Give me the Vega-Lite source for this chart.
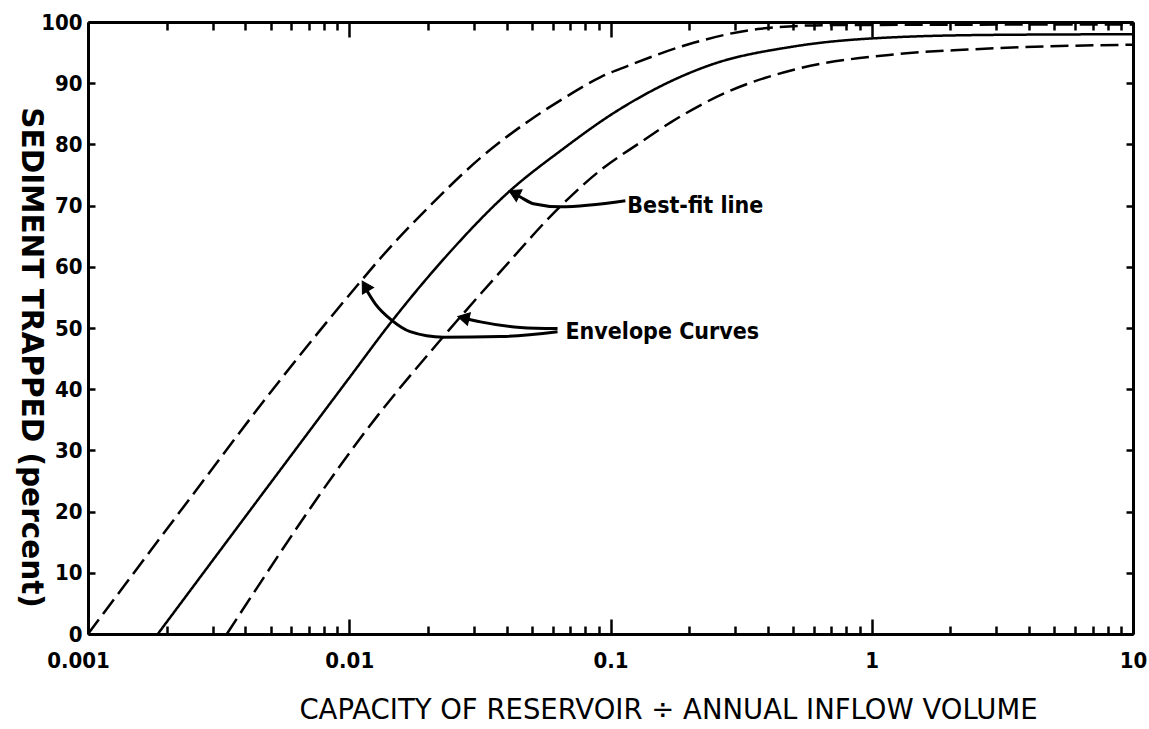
{
  "$schema": "https://vega.github.io/schema/vega-lite/v6.json",
  "width": 1045,
  "height": 612,
  "autosize": {"type": "none"},
  "padding": {"left": 88, "top": 22, "right": 16, "bottom": 95},
  "background": "white",
  "view": {"stroke": null},
  "config": {
    "axis": {
      "grid": false,
      "domainColor": "black",
      "domainWidth": 3,
      "tickColor": "black",
      "tickWidth": 2.5,
      "labelColor": "black",
      "labelFont": "DejaVu Sans Condensed, sans-serif",
      "labelFontWeight": "bold",
      "labelFontSize": 22,
      "titleColor": "black",
      "titleFont": "DejaVu Sans, sans-serif",
      "titleFontWeight": "normal",
      "titleFontSize": 27.5
    }
  },
  "datasets": {
    "curves": [
      {"curve": "upper", "x": 0.001, "y": 0},
      {"curve": "upper", "x": 0.00225, "y": 20},
      {"curve": "upper", "x": 0.00544, "y": 41.5},
      {"curve": "upper", "x": 0.011, "y": 57.5},
      {"curve": "upper", "x": 0.0131, "y": 61.3},
      {"curve": "upper", "x": 0.0204, "y": 70},
      {"curve": "upper", "x": 0.0318, "y": 77.8},
      {"curve": "upper", "x": 0.0493, "y": 84.0},
      {"curve": "upper", "x": 0.066, "y": 87.5},
      {"curve": "upper", "x": 0.0916, "y": 91.0},
      {"curve": "upper", "x": 0.116, "y": 92.8},
      {"curve": "upper", "x": 0.208, "y": 96.6},
      {"curve": "upper", "x": 0.376, "y": 98.9},
      {"curve": "upper", "x": 0.7, "y": 99.5},
      {"curve": "upper", "x": 10, "y": 99.6},
      {"curve": "best", "x": 0.00185, "y": 0},
      {"curve": "best", "x": 0.0101, "y": 42.1},
      {"curve": "best", "x": 0.01437, "y": 50.8},
      {"curve": "best", "x": 0.0237, "y": 61.9},
      {"curve": "best", "x": 0.0407, "y": 72.2},
      {"curve": "best", "x": 0.066, "y": 79.3},
      {"curve": "best", "x": 0.1026, "y": 85.1},
      {"curve": "best", "x": 0.242, "y": 93.0},
      {"curve": "best", "x": 0.503, "y": 96.0},
      {"curve": "best", "x": 1.21, "y": 97.5},
      {"curve": "best", "x": 3, "y": 97.9},
      {"curve": "best", "x": 10, "y": 98.0},
      {"curve": "lower", "x": 0.0034, "y": 0},
      {"curve": "lower", "x": 0.0128, "y": 35.6},
      {"curve": "lower", "x": 0.0223, "y": 48.0},
      {"curve": "lower", "x": 0.0379, "y": 59.2},
      {"curve": "lower", "x": 0.064, "y": 69.8},
      {"curve": "lower", "x": 0.0916, "y": 75.8},
      {"curve": "lower", "x": 0.13, "y": 80.3},
      {"curve": "lower", "x": 0.17, "y": 83.6},
      {"curve": "lower", "x": 0.281, "y": 88.6},
      {"curve": "lower", "x": 0.503, "y": 92.2},
      {"curve": "lower", "x": 1.21, "y": 94.7},
      {"curve": "lower", "x": 2.33, "y": 95.5},
      {"curve": "lower", "x": 10, "y": 96.3}
    ],
    "arrows": [
      {"arrow": "a1", "x": 0.114, "y": 70.8},
      {"arrow": "a1", "x": 0.0643, "y": 69.8},
      {"arrow": "a1", "x": 0.0507, "y": 70.3},
      {"arrow": "a1", "x": 0.0452, "y": 71.4},
      {"arrow": "a1", "x": 0.0414, "y": 72.3},
      {"arrow": "a2", "x": 0.0627, "y": 49.4},
      {"arrow": "a2", "x": 0.0379, "y": 48.6},
      {"arrow": "a2", "x": 0.0229, "y": 48.5},
      {"arrow": "a2", "x": 0.0171, "y": 49.4},
      {"arrow": "a2", "x": 0.0146, "y": 51.2},
      {"arrow": "a2", "x": 0.0126, "y": 53.9},
      {"arrow": "a2", "x": 0.01132, "y": 57.1},
      {"arrow": "a3", "x": 0.0627, "y": 49.9},
      {"arrow": "a3", "x": 0.0452, "y": 50.1},
      {"arrow": "a3", "x": 0.0318, "y": 51.0},
      {"arrow": "a3", "x": 0.0276, "y": 51.6}
    ],
    "heads": [
      {"arrow": "a1", "x": 0.0434, "y": 71.9},
      {"arrow": "a2", "x": 0.0116, "y": 56.6},
      {"arrow": "a3", "x": 0.0278, "y": 51.6}
    ],
    "labels": [
      {"text": "Best-fit line", "x": 0.116, "y": 70.0},
      {"text": "Envelope Curves", "x": 0.0672, "y": 49.4}
    ]
  },
  "resolve": {"axis": {"x": "independent", "y": "independent"}},
  "layer": [
    {
      "data": {"name": "curves"},
      "mark": {"type": "line", "color": "black", "strokeWidth": 2.5, "interpolate": "monotone"},
      "encoding": {
        "x": {
          "field": "x", "type": "quantitative",
          "scale": {"type": "log", "domain": [0.001, 10], "nice": false},
          "axis": {
            "orient": "bottom",
            "values": [0.001, 0.002, 0.003, 0.004, 0.005, 0.006, 0.007, 0.008, 0.009, 0.01, 0.02, 0.03, 0.04, 0.05, 0.06, 0.07, 0.08, 0.09, 0.1, 0.2, 0.3, 0.4, 0.5, 0.6, 0.7, 0.8, 0.9, 1, 2, 3, 4, 5, 6, 7, 8, 9, 10],
            "format": "~g",
            "labelExpr": "indexof(['0.001','0.01','0.1','1','10'], datum.label) >= 0 ? datum.label : ''",
            "tickSize": {"condition": {"test": "indexof([0.001, 0.01, 0.1, 1, 10], datum.value) >= 0", "value": -15}, "value": -8},
            "labelOffset": {"condition": {"test": "datum.value == 0.001", "value": -10}, "value": 0},
            "labelPadding": 31,
            "labelFlush": false,
            "labelOverlap": false,
            "title": "CAPACITY OF RESERVOIR ÷ ANNUAL INFLOW VOLUME",
            "titleX": 580,
            "titleY": 76,
            "titleAlign": "center",
            "titleBaseline": "middle"
          }
        },
        "y": {
          "field": "y", "type": "quantitative",
          "scale": {"domain": [0, 100], "nice": false},
          "axis": {
            "orient": "left",
            "values": [0, 10, 20, 30, 40, 50, 60, 70, 80, 90, 100],
            "tickSize": -7,
            "labelPadding": 13,
            "labelFlush": false,
            "title": "SEDIMENT TRAPPED (percent)",
            "titleAngle": 90,
            "titleX": -58,
            "titleY": 335,
            "titleAlign": "center",
            "titleBaseline": "middle",
            "titleFontWeight": "bold",
            "titleFontSize": 29.5
          }
        },
        "detail": {"field": "curve"},
        "strokeDash": {
          "field": "curve", "type": "nominal",
          "scale": {"domain": ["upper", "best", "lower"], "range": [[18, 7], [1, 0], [18, 7]]},
          "legend": null
        }
      }
    },
    {
      "data": {"name": "arrows"},
      "mark": {"type": "line", "color": "black", "strokeWidth": 3, "interpolate": "monotone"},
      "encoding": {
        "x": {
          "field": "x", "type": "quantitative",
          "axis": {
            "orient": "top",
            "values": [0.001, 0.002, 0.003, 0.004, 0.005, 0.006, 0.007, 0.008, 0.009, 0.01, 0.02, 0.03, 0.04, 0.05, 0.06, 0.07, 0.08, 0.09, 0.1, 0.2, 0.3, 0.4, 0.5, 0.6, 0.7, 0.8, 0.9, 1, 2, 3, 4, 5, 6, 7, 8, 9, 10],
            "labels": false,
            "title": null,
            "tickSize": {"condition": {"test": "indexof([0.001, 0.01, 0.1, 1, 10], datum.value) >= 0", "value": -15}, "value": -8}
          }
        },
        "y": {
          "field": "y", "type": "quantitative",
          "axis": {
            "orient": "right",
            "values": [0, 10, 20, 30, 40, 50, 60, 70, 80, 90, 100],
            "labels": false,
            "title": null,
            "tickSize": -7
          }
        },
        "detail": {"field": "arrow"}
      }
    },
    {
      "data": {"name": "heads"},
      "transform": [{"filter": "datum.arrow == 'a1'"}],
      "mark": {"type": "point", "shape": "triangle", "filled": true, "fill": "black", "stroke": "black", "strokeWidth": 1, "size": 170, "angle": 296, "opacity": 1},
      "encoding": {
        "x": {"field": "x", "type": "quantitative", "axis": null},
        "y": {"field": "y", "type": "quantitative", "axis": null}
      }
    },
    {
      "data": {"name": "heads"},
      "transform": [{"filter": "datum.arrow == 'a2'"}],
      "mark": {"type": "point", "shape": "triangle", "filled": true, "fill": "black", "stroke": "black", "strokeWidth": 1, "size": 170, "angle": 329, "opacity": 1},
      "encoding": {
        "x": {"field": "x", "type": "quantitative", "axis": null},
        "y": {"field": "y", "type": "quantitative", "axis": null}
      }
    },
    {
      "data": {"name": "heads"},
      "transform": [{"filter": "datum.arrow == 'a3'"}],
      "mark": {"type": "point", "shape": "triangle", "filled": true, "fill": "black", "stroke": "black", "strokeWidth": 1, "size": 170, "angle": 283, "opacity": 1},
      "encoding": {
        "x": {"field": "x", "type": "quantitative", "axis": null},
        "y": {"field": "y", "type": "quantitative", "axis": null}
      }
    },
    {
      "data": {"name": "labels"},
      "mark": {"type": "text", "align": "left", "baseline": "middle", "font": "DejaVu Sans Condensed, sans-serif", "fontSize": 23, "fontWeight": "bold", "color": "black"},
      "encoding": {
        "x": {"field": "x", "type": "quantitative", "axis": null},
        "y": {"field": "y", "type": "quantitative", "axis": null},
        "text": {"field": "text"}
      }
    }
  ]
}
